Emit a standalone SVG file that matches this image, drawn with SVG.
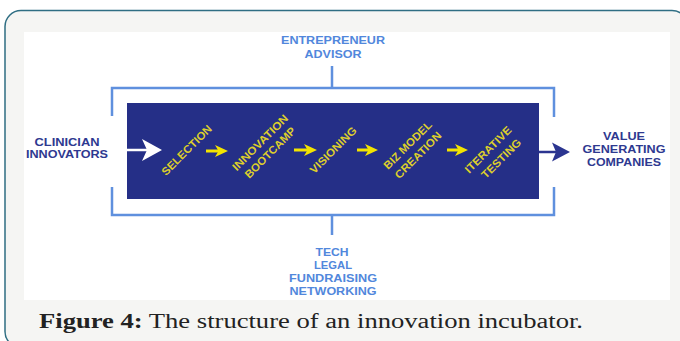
<svg xmlns="http://www.w3.org/2000/svg" width="680" height="341" viewBox="0 0 680 341">
  <style>
    .lbl { font-family: "Liberation Sans", Arial, sans-serif; font-weight: bold; font-size: 10.5px; text-anchor: middle; }
    .support { fill: #5187dc; }
    .io { fill: #2e3990; }
    .step { fill: #ddce2c; font-size: 11px; }
    .bracket { fill: none; stroke: #5f90de; stroke-width: 2.5; }
    .flow { stroke: #f3e400; stroke-width: 3; }
    .caption { font-family: "Liberation Serif", "Times New Roman", serif; font-size: 20.5px; fill: #222222; }
  </style>
  <defs>
    <marker id="yellowHead" markerUnits="userSpaceOnUse" markerWidth="14" markerHeight="13" refX="5" refY="6.5" orient="auto">
      <path d="M0,0.5 L13,6.5 L0,12.5 L3.5,6.5 Z" fill="#f3e400"/>
    </marker>
  </defs>

  <!-- card frame and white figure panel -->
  <g id="frame">
    <rect x="5" y="10.5" width="683" height="337" rx="16" fill="#f5f5f3" stroke="#2f6e83" stroke-width="1.5"/>
    <rect x="24" y="32" width="646" height="268" fill="#ffffff"/>
  </g>

  <!-- support: entrepreneur advisor -->
  <g id="advisor">
    <text class="lbl support" x="333" y="44" textLength="104" lengthAdjust="spacingAndGlyphs">ENTREPRENEUR</text>
    <text class="lbl support" x="333" y="58" textLength="57" lengthAdjust="spacingAndGlyphs">ADVISOR</text>
  </g>

  <!-- support: services -->
  <g id="services">
    <text class="lbl support" x="332" y="256" textLength="33" lengthAdjust="spacingAndGlyphs">TECH</text>
    <text class="lbl support" x="333" y="269" textLength="38" lengthAdjust="spacingAndGlyphs">LEGAL</text>
    <text class="lbl support" x="333" y="282" textLength="88" lengthAdjust="spacingAndGlyphs">FUNDRAISING</text>
    <text class="lbl support" x="333" y="295" textLength="87" lengthAdjust="spacingAndGlyphs">NETWORKING</text>
  </g>

  <!-- input -->
  <g id="clinicians">
    <text class="lbl io" x="67" y="146" textLength="65" lengthAdjust="spacingAndGlyphs">CLINICIAN</text>
    <text class="lbl io" x="67" y="158" textLength="82" lengthAdjust="spacingAndGlyphs">INNOVATORS</text>
  </g>

  <!-- output -->
  <g id="companies">
    <text class="lbl io" x="624" y="140" textLength="42" lengthAdjust="spacingAndGlyphs">VALUE</text>
    <text class="lbl io" x="624" y="153" textLength="83" lengthAdjust="spacingAndGlyphs">GENERATING</text>
    <text class="lbl io" x="624" y="166" textLength="74" lengthAdjust="spacingAndGlyphs">COMPANIES</text>
  </g>

  <!-- incubator process box -->
  <g id="incubator">
    <rect x="127" y="103" width="412" height="96" fill="#252f87"/>
  </g>

  <g id="selection">
    <text class="lbl step" transform="translate(186.5,150) rotate(-45)" x="0" y="4" textLength="66" lengthAdjust="spacingAndGlyphs">SELECTION</text>
  </g>
  <g id="bootcamp">
    <text class="lbl step" transform="translate(260,142.5) rotate(-45)" x="0" y="4" textLength="74" lengthAdjust="spacingAndGlyphs">INNOVATION</text>
    <text class="lbl step" transform="translate(270,152.5) rotate(-45)" x="0" y="4" textLength="67" lengthAdjust="spacingAndGlyphs">BOOTCAMP</text>
  </g>
  <g id="visioning">
    <text class="lbl step" transform="translate(333,150) rotate(-45)" x="0" y="4" textLength="61" lengthAdjust="spacingAndGlyphs">VISIONING</text>
  </g>
  <g id="bizmodel">
    <text class="lbl step" transform="translate(407.5,145) rotate(-45)" x="0" y="4" textLength="63" lengthAdjust="spacingAndGlyphs">BIZ MODEL</text>
    <text class="lbl step" transform="translate(418,155) rotate(-45)" x="0" y="4" textLength="61" lengthAdjust="spacingAndGlyphs">CREATION</text>
  </g>
  <g id="testing">
    <text class="lbl step" transform="translate(488,149.5) rotate(-45)" x="0" y="4" textLength="61" lengthAdjust="spacingAndGlyphs">ITERATIVE</text>
    <text class="lbl step" transform="translate(501,158.5) rotate(-45)" x="0" y="4" textLength="51" lengthAdjust="spacingAndGlyphs">TESTING</text>
  </g>

  <!-- connectors -->
  <g id="connectors">
    <!-- advisor bracket over the process -->
    <path class="bracket" d="M112,116 V88 H554 V117 M332,66 V88"/>
    <!-- services bracket under the process -->
    <path class="bracket" d="M112,187 V215 H554 V187 M332,215 V235"/>
    <!-- input arrow -->
    <line x1="127" y1="150" x2="152" y2="150" stroke="#ffffff" stroke-width="2.5"/>
    <path d="M142,139 L162,150 L142,161 L147,150 Z" fill="#ffffff"/>
    <!-- step arrows -->
    <line class="flow" x1="206" y1="151" x2="220" y2="151" marker-end="url(#yellowHead)"/>
    <line class="flow" x1="294" y1="150" x2="309" y2="150" marker-end="url(#yellowHead)"/>
    <line class="flow" x1="357" y1="150" x2="370" y2="150" marker-end="url(#yellowHead)"/>
    <line class="flow" x1="447" y1="150" x2="460" y2="150" marker-end="url(#yellowHead)"/>
    <!-- output arrow -->
    <line x1="539" y1="152" x2="562" y2="152" stroke="#2b3590" stroke-width="2.5"/>
    <path d="M552,142.5 L570,152 L552,161.5 L556,152 Z" fill="#2b3590"/>
  </g>

  <!-- caption -->
  <g id="caption">
    <text class="caption" x="39" y="328" textLength="544" lengthAdjust="spacingAndGlyphs"><tspan font-weight="bold">Figure 4:</tspan> The structure of an innovation incubator.</text>
  </g>
</svg>
